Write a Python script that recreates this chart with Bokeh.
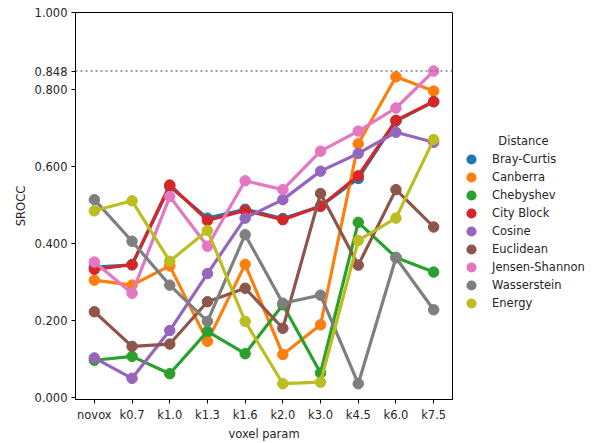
from bokeh.plotting import figure
from bokeh.layouts import row
from bokeh.models import (FactorRange, Range1d, FixedTicker, PrintfTickFormatter,
                          Span, Legend, LegendItem, Label)
from bokeh.embed import file_html
from bokeh.resources import INLINE

# voxel parameter settings along the x axis
params = ["novox", "k0.7", "k1.0", "k1.3", "k1.6", "k2.0", "k3.0", "k4.5", "k6.0", "k7.5"]

# SROCC per distance measure
bray_curtis    = [0.339, 0.345, 0.548, 0.466, 0.489, 0.465, 0.497, 0.569, 0.718, 0.768]
canberra       = [0.305, 0.292, 0.342, 0.146, 0.346, 0.112, 0.189, 0.659, 0.833, 0.796]
chebyshev      = [0.097, 0.107, 0.062, 0.172, 0.114, 0.241, 0.064, 0.455, 0.364, 0.326]
city_block     = [0.333, 0.345, 0.552, 0.460, 0.486, 0.462, 0.497, 0.576, 0.720, 0.769]
cosine         = [0.103, 0.050, 0.174, 0.322, 0.466, 0.514, 0.588, 0.634, 0.689, 0.663]
euclidean      = [0.223, 0.133, 0.139, 0.249, 0.284, 0.180, 0.530, 0.344, 0.540, 0.443]
jensen_shannon = [0.352, 0.271, 0.522, 0.393, 0.563, 0.540, 0.640, 0.692, 0.752, 0.848]
wasserstein    = [0.514, 0.406, 0.292, 0.198, 0.423, 0.245, 0.266, 0.036, 0.363, 0.228]
energy         = [0.485, 0.511, 0.354, 0.434, 0.198, 0.036, 0.040, 0.408, 0.466, 0.670]

names = ["Bray-Curtis", "Canberra", "Chebyshev", "City Block", "Cosine",
         "Euclidean", "Jensen-Shannon", "Wasserstein", "Energy"]
series = [bray_curtis, canberra, chebyshev, city_block, cosine,
          euclidean, jensen_shannon, wasserstein, energy]
colors = ["#1f77b4", "#ff7f0e", "#2ca02c", "#d62728", "#9467bd",
          "#8c564b", "#e377c2", "#7f7f7f", "#bcbd22"]

best = 0.848
y_ticks = [0.0, 0.2, 0.4, 0.6, 0.8, best, 1.0]

FONT = "DejaVu Sans"
TXT = "#262626"
FS = "11.5px"

# main chart
p = figure(width=454, height=443, x_range=FactorRange(*params),
           y_range=Range1d(-0.005, 1.0), output_backend="svg",
           toolbar_location=None, min_border_left=75, min_border_right=2,
           min_border_top=12, min_border_bottom=41)
p.outline_line_color = "black"
p.outline_line_width = 1
p.xgrid.visible = False
p.ygrid.visible = False
p.background_fill_color = "white"
p.border_fill_color = "white"

for ax in (p.xaxis[0], p.yaxis[0]):
    ax.axis_line_color = "black"
    ax.major_tick_line_color = "black"
    ax.major_tick_in = 0
    ax.major_tick_out = 4
    ax.minor_tick_line_color = None
    ax.major_label_text_font = FONT
    ax.major_label_text_font_size = FS
    ax.major_label_text_color = TXT
    ax.axis_label_text_font = FONT
    ax.axis_label_text_font_size = FS
    ax.axis_label_text_font_style = "normal"
    ax.axis_label_text_color = TXT

p.xaxis.axis_label = "voxel param"
p.xaxis.major_label_standoff = 4
p.xaxis.axis_label_standoff = 2
p.yaxis.axis_label = "SROCC"
p.yaxis.ticker = FixedTicker(ticks=y_ticks)
p.yaxis.formatter = PrintfTickFormatter(format="%.3f")
p.yaxis.major_label_standoff = 4
p.yaxis.axis_label_standoff = 4

# reference line at the best score
p.add_layout(Span(location=best, dimension="width", line_color="#808080",
                  line_dash="2 3", line_width=1.5))

for name, vals, col in zip(names, series, colors):
    p.line(params, vals, line_color=col, line_width=3.2)
    p.scatter(params, vals, size=10.5, fill_color=col, line_color=col)

# legend panel beside the chart
lg = figure(width=147, height=443, x_range=Range1d(0, 1), y_range=Range1d(0, 1),
            x_axis_type=None, y_axis_type=None, output_backend="svg",
            toolbar_location=None, min_border=0)
lg.outline_line_color = None
lg.xgrid.visible = False
lg.ygrid.visible = False

# legend markers come from off-range points so only the key swatches show;
# a thick outline enlarges the swatch dots
items = []
for name, col in zip(names, colors):
    r = lg.scatter([-5], [-5], size=10.5, fill_color=col, line_color=col,
                   line_width=3)
    items.append(LegendItem(label=name, renderers=[r]))

legend = Legend(items=items, location=(8, 87), padding=0, margin=0,
                spacing=0, glyph_width=18, glyph_height=18, label_height=18,
                label_standoff=12, label_text_font=FONT,
                label_text_font_size=FS, label_text_color=TXT,
                border_line_color=None, background_fill_alpha=0)
lg.add_layout(legend, "center")
lg.add_layout(Label(x=69, y=259, x_units="screen", y_units="screen",
                    text="Distance", text_align="center", text_baseline="middle",
                    text_font=FONT, text_font_size=FS, text_color=TXT))

open("out.html", "w").write(file_html(row(p, lg, spacing=0), INLINE))
